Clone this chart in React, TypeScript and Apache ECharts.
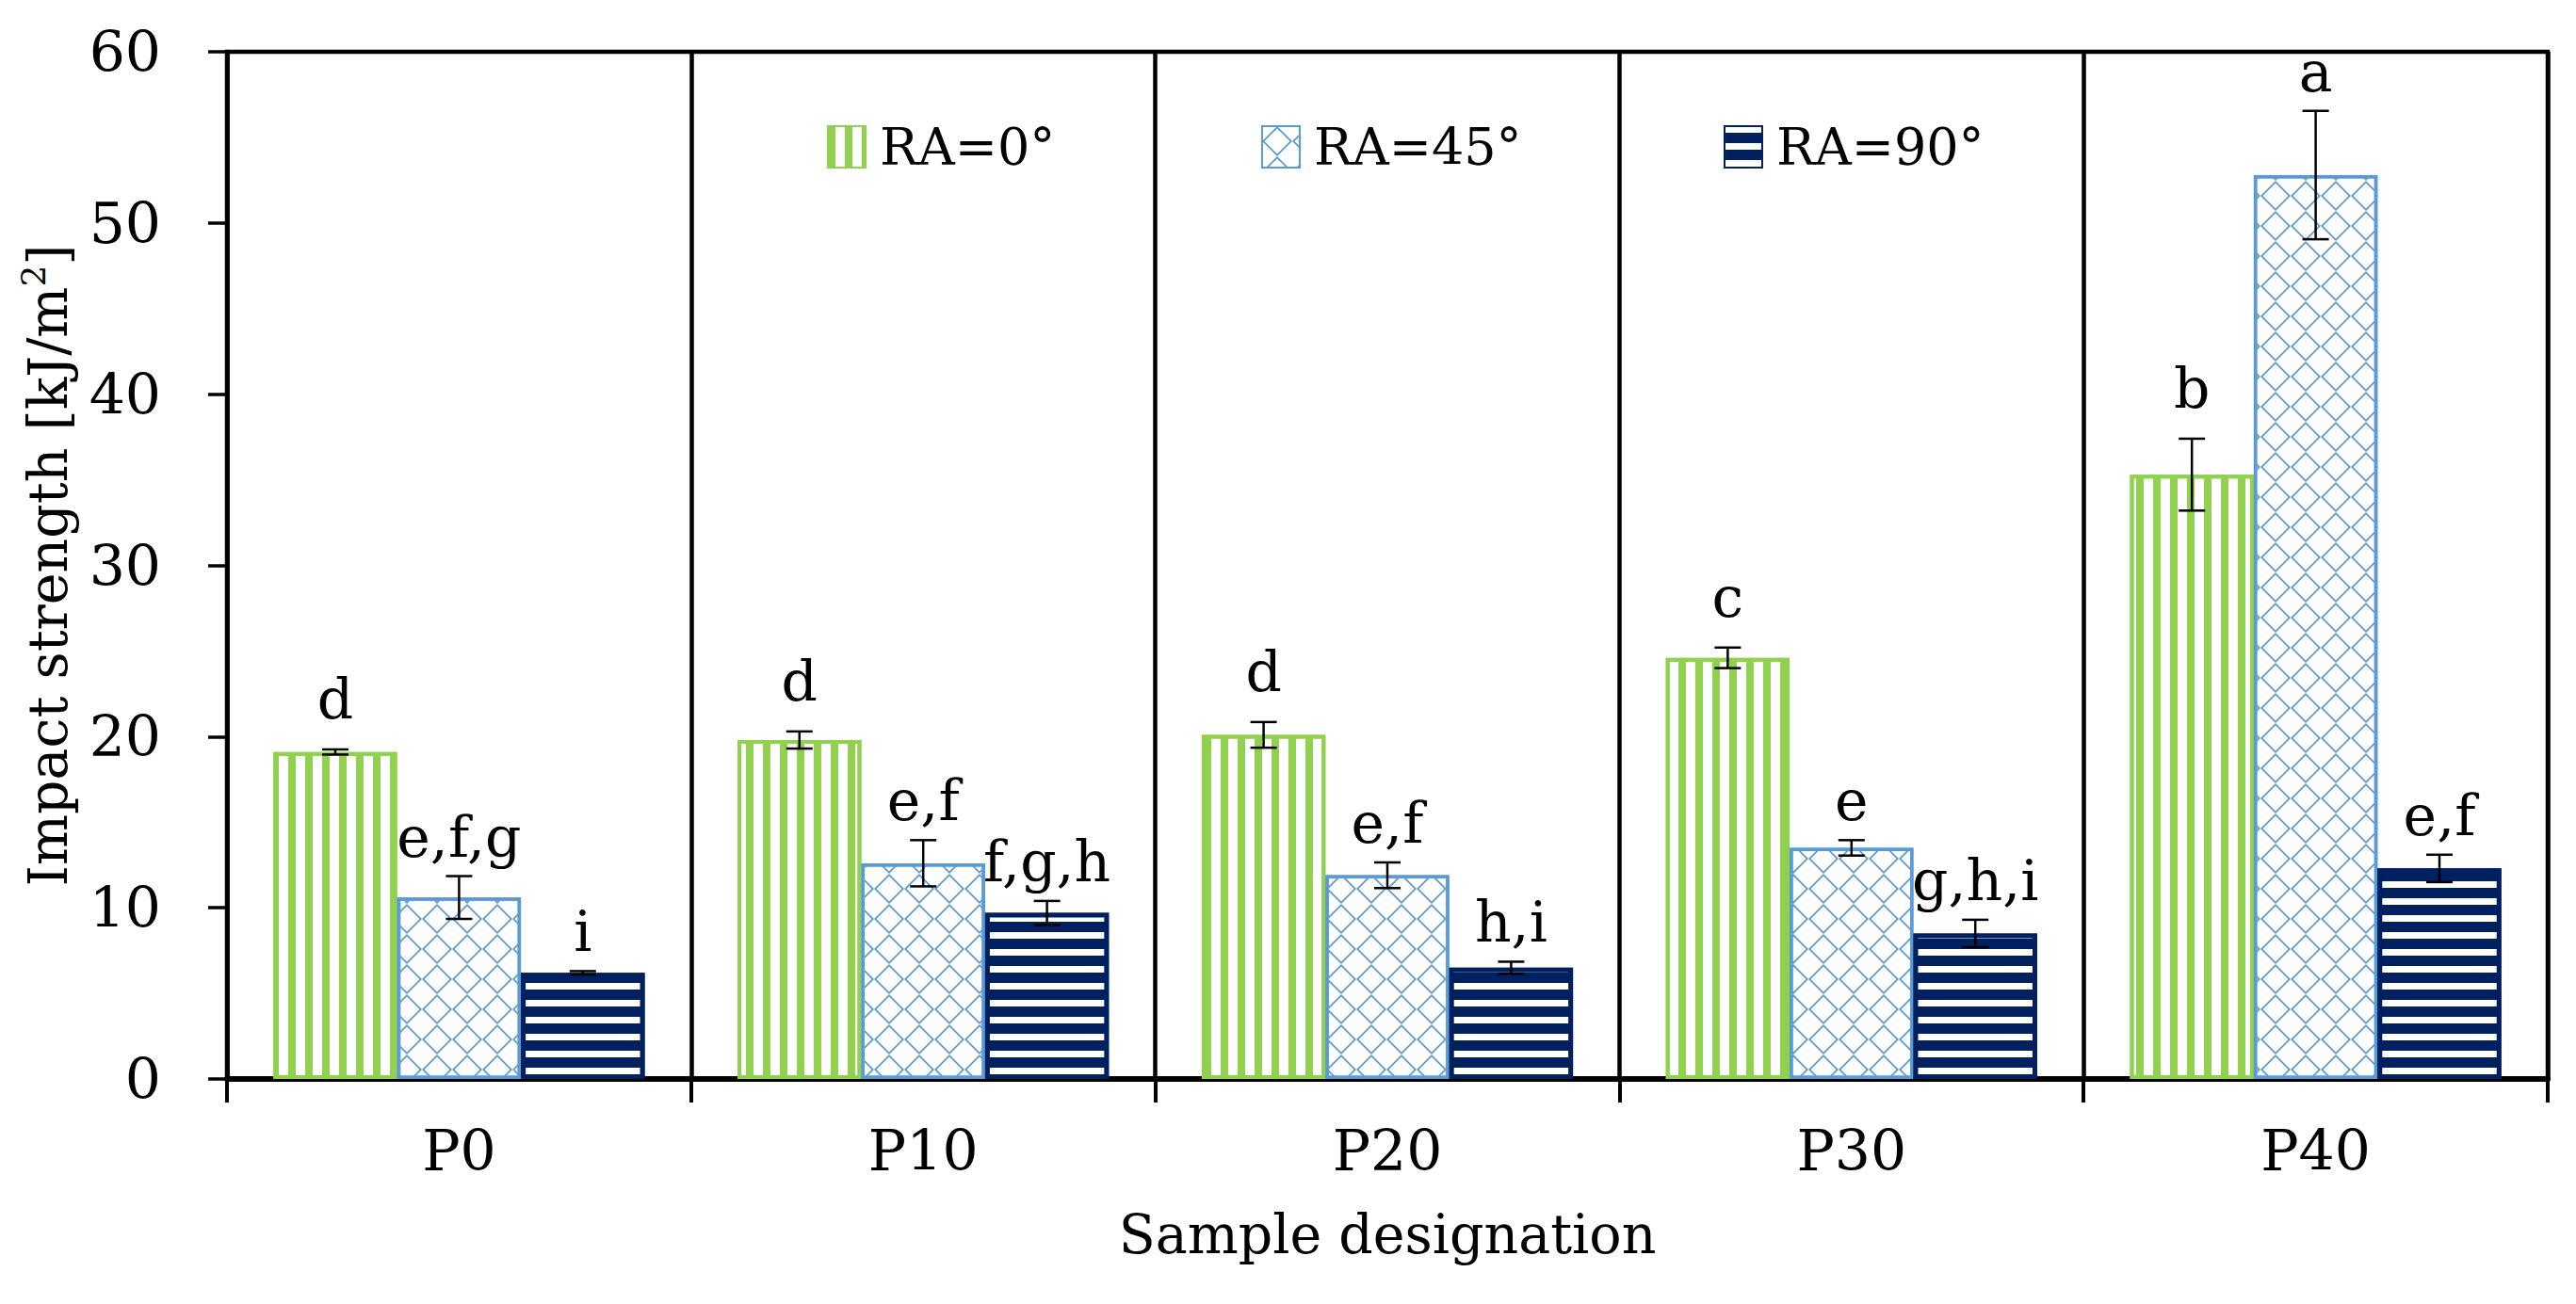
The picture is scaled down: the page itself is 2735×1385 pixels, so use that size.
import React, { useEffect, useRef } from 'react';
import * as echarts from 'echarts';

const categories = ['P0', 'P10', 'P20', 'P30', 'P40'];
const seriesNames = ['RA=0°', 'RA=45°', 'RA=90°'];

const ra0 = [19.1, 19.8, 20.1, 24.6, 35.3];
const ra0Err = [0.15, 0.5, 0.75, 0.6, 2.1];
const ra0Letters = ['d', 'd', 'd', 'c', 'b'];

const ra45 = [10.6, 12.6, 11.9, 13.5, 52.8];
const ra45Err = [1.25, 1.35, 0.75, 0.45, 3.75];
const ra45Letters = ['e,f,g', 'e,f', 'e,f', 'e', 'a'];

const ra90 = [6.2, 9.7, 6.5, 8.5, 12.3];
const ra90Err = [0.1, 0.7, 0.35, 0.8, 0.8];
const ra90Letters = ['i', 'f,g,h', 'h,i', 'g,h,i', 'e,f'];

const FONT = "'DejaVu Serif', 'Liberation Serif', serif";
const GREEN = '#92D050';
const BLUE = '#5B9BD5';
const NAVY = '#002060';

// hatch patterns of the original bars
const decals: any[] = [
  {
    symbol: 'rect',
    symbolSize: 1,
    symbolKeepAspect: false,
    color: GREEN,
    dashArrayX: [8, 10],
    dashArrayY: [20, 0],
  },
  {
    symbol: 'path://M16 0L32 16L16 32L0 16Z M16 2.5L2.5 16L16 29.5L29.5 16Z',
    symbolSize: 1,
    symbolKeepAspect: true,
    color: BLUE,
    dashArrayX: [32, 0],
    dashArrayY: [32, 0],
  },
  {
    symbol: 'rect',
    symbolSize: 1,
    symbolKeepAspect: false,
    color: '#ffffff',
    dashArrayX: [20, 0],
    dashArrayY: [7, 11],
  },
];

const App: React.FC = () => {
  const chartRef = useRef<HTMLDivElement | null>(null);

  useEffect(() => {
    if (!chartRef.current) return;
    const chart = echarts.init(chartRef.current, undefined, { renderer: 'svg' });

    const values = [ra0, ra45, ra90];
    const errs = [ra0Err, ra45Err, ra90Err];
    const letters = [ra0Letters, ra45Letters, ra90Letters];
    const fills = ['#ffffff', '#ffffff', NAVY];
    const borders = [GREEN, BLUE, NAVY];
    const borderWidths = [4, 3.5, 5];
    const labelGap = [24, 12, 12];

    const bars = seriesNames.map((name, i) => ({
      name,
      type: 'bar' as const,
      data: values[i],
      barGap: '0%',
      barCategoryGap: '20%',
      itemStyle: {
        color: fills[i],
        borderColor: borders[i],
        borderWidth: borderWidths[i],
        decal: decals[i],
      },
      emphasis: { disabled: true },
    }));

    const errorBars = seriesNames.map((name, i) => ({
      name: name + ' error',
      type: 'custom' as const,
      z: 5,
      data: values[i].map((v, k) => [k, v, errs[i][k]]),
      encode: { x: 0, y: 1 },
      renderItem: (params: any, api: any) => {
        const ci = api.value(0);
        const v = api.value(1);
        const e = api.value(2);
        const band = api.size([1, 0])[0];
        const bw = (band * 0.8) / 3;
        const cx = api.coord([ci, 0])[0] + (i - 1) * bw;
        const yTop = api.coord([ci, v + e])[1];
        const yBot = api.coord([ci, v - e])[1];
        const cap = 14;
        const stroke = { stroke: '#000', lineWidth: 2.5 };
        return {
          type: 'group',
          children: [
            { type: 'line', shape: { x1: cx, y1: yTop, x2: cx, y2: yBot }, style: stroke },
            { type: 'line', shape: { x1: cx - cap, y1: yTop, x2: cx + cap, y2: yTop }, style: stroke },
            { type: 'line', shape: { x1: cx - cap, y1: yBot, x2: cx + cap, y2: yBot }, style: stroke },
            {
              type: 'text',
              x: cx,
              y: yTop - labelGap[i],
              style: {
                text: letters[i][params.dataIndex],
                fill: '#000',
                font: `60px ${FONT}`,
                align: 'center',
                verticalAlign: 'bottom',
              },
            },
          ],
        };
      },
    }));

    const legendLefts = [878, 1339, 1830];

    const option: any = {
      animation: false,
      backgroundColor: '#ffffff',
      grid: {
        left: 241,
        right: 30,
        top: 55,
        bottom: 239,
        show: true,
        borderColor: '#000',
        borderWidth: 4.5,
        backgroundColor: 'transparent',
      },
      legend: seriesNames.map((name, i) => ({
        data: [name],
        left: legendLefts[i],
        top: 129,
        padding: 0,
        itemWidth: 40,
        itemHeight: 44,
        icon: 'rect',
        selectedMode: false,
        textStyle: { fontSize: 54, fontFamily: FONT, color: '#000', padding: [0, 0, 0, 10] },
      })),
      xAxis: {
        type: 'category',
        data: categories,
        boundaryGap: true,
        name: 'Sample designation',
        nameLocation: 'middle',
        nameGap: 136,
        nameTextStyle: { fontSize: 57, fontFamily: FONT, color: '#000' },
        axisLine: { show: true, lineStyle: { color: '#000', width: 6 } },
        axisTick: { show: true, length: 25, interval: 0, lineStyle: { color: '#000', width: 4 } },
        axisLabel: { fontSize: 60, fontFamily: FONT, color: '#000', margin: 46 },
        splitLine: { show: true, interval: 0, lineStyle: { color: '#000', width: 4.5 } },
      },
      yAxis: {
        type: 'value',
        min: 0,
        max: 60,
        interval: 10,
        name: 'Impact strength [kJ/m{sup|2}]',
        nameLocation: 'middle',
        nameGap: 126,
        nameTextStyle: {
          fontSize: 57,
          fontFamily: FONT,
          color: '#000',
          lineHeight: 66,
          rich: {
            sup: { fontSize: 36, fontFamily: FONT, color: '#000', lineHeight: 66, verticalAlign: 'top', padding: [0, 0, 28, 0] },
          },
        },
        axisLine: { show: true, lineStyle: { color: '#000', width: 4.5 } },
        axisTick: { show: true, length: 20, lineStyle: { color: '#000', width: 3.5 } },
        axisLabel: { fontSize: 60, fontFamily: FONT, color: '#000', margin: 70 },
        splitLine: { show: false },
      },
      series: [...bars, ...errorBars],
    };

    chart.setOption(option);

    return () => {
      chart.dispose();
    };
  }, []);

  return (
    <div
      ref={chartRef}
      style={{ position: 'fixed', left: 0, top: 0, width: '2735px', height: '1385px', background: '#fff' }}
    />
  );
};

export default App;
